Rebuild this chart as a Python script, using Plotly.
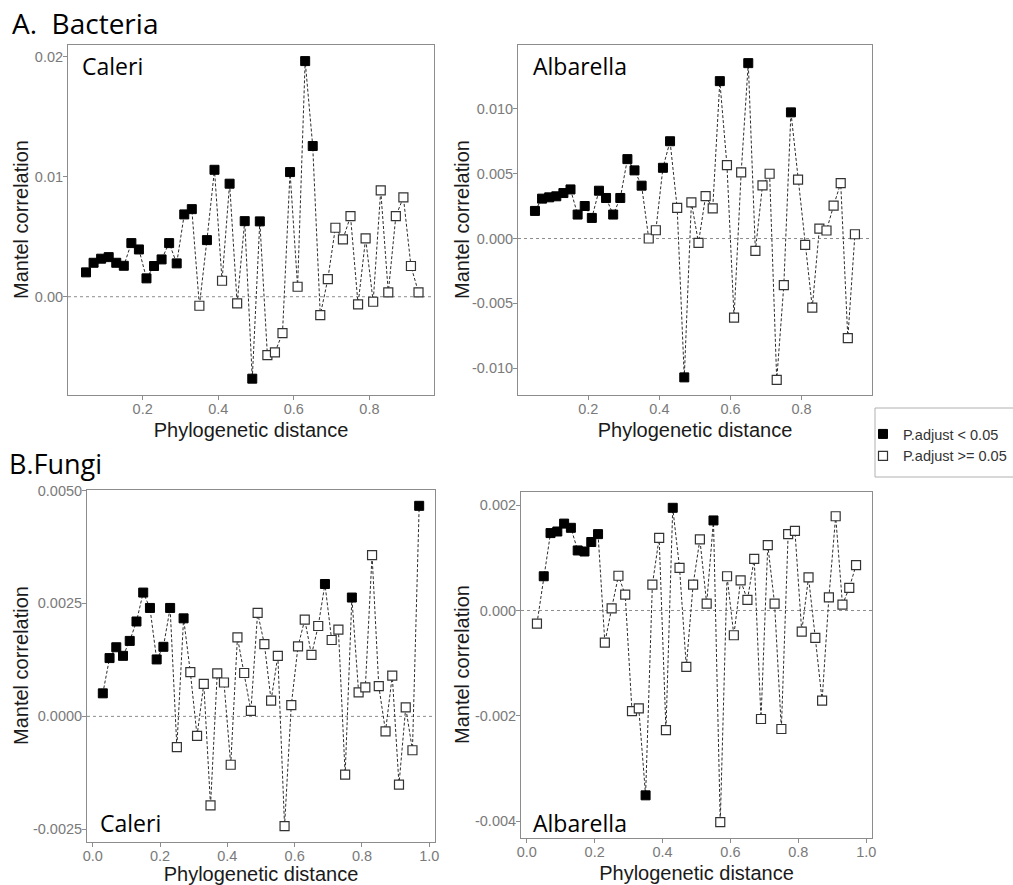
import plotly.graph_objects as go

W, H = 1013, 885

# ---------------- data ----------------
bac_caleri_x = [0.05, 0.07, 0.09, 0.11, 0.13, 0.15, 0.17, 0.19, 0.21, 0.23, 0.25, 0.27, 0.29, 0.31, 0.33,
                0.35, 0.37, 0.39, 0.41, 0.43, 0.45, 0.47, 0.49, 0.51, 0.53, 0.55, 0.57, 0.59, 0.61, 0.63,
                0.65, 0.67, 0.69, 0.71, 0.73, 0.75, 0.77, 0.79, 0.81, 0.83, 0.85, 0.87, 0.89, 0.91, 0.93]
bac_caleri_y = [0.00203, 0.00283, 0.00317, 0.0033, 0.00283, 0.00258, 0.00447, 0.00394, 0.00153, 0.00256,
                0.00311, 0.00447, 0.00278, 0.00686, 0.0073, -0.00075, 0.00472, 0.01058, 0.00133, 0.00942,
                -0.00056, 0.0063, -0.00683, 0.00628, -0.00486, -0.00464, -0.00303, 0.01039, 0.00083, 0.01964,
                0.01256, -0.00153, 0.00147, 0.00575, 0.00478, 0.00672, -0.00064, 0.00486, -0.00042, 0.00886,
                0.00036, 0.00672, 0.00828, 0.00256, 0.00036]
bac_caleri_sig = [1, 1, 1, 1, 1, 1, 1, 1, 1, 1, 1, 1, 1, 1, 1,
                  0, 1, 1, 0, 1, 0, 1, 1, 1, 0, 0, 0, 1, 0, 1,
                  1, 0, 0, 0, 0, 0, 0, 0, 0, 0, 0, 0, 0, 0, 0]

bac_alb_x = [0.05, 0.07, 0.09, 0.11, 0.13, 0.15, 0.17, 0.19, 0.21, 0.23, 0.25, 0.27, 0.29, 0.31, 0.33,
             0.35, 0.37, 0.39, 0.41, 0.43, 0.45, 0.47, 0.49, 0.51, 0.53, 0.55, 0.57, 0.59, 0.61, 0.63,
             0.65, 0.67, 0.69, 0.71, 0.73, 0.75, 0.77, 0.79, 0.81, 0.83, 0.85, 0.87, 0.89, 0.91, 0.93, 0.95]
bac_alb_y = [0.00213, 0.00308, 0.00318, 0.00326, 0.00351, 0.00379, 0.00185, 0.00251, 0.00159, 0.00369,
             0.00313, 0.00185, 0.00313, 0.00613, 0.00526, 0.00408, 0.0, 0.00064, 0.00546, 0.00751,
             0.00236, -0.01072, 0.00279, -0.00033, 0.00328, 0.00233, 0.01215, 0.00567, -0.0061, 0.0051,
             0.01354, -0.00095, 0.0041, 0.005, -0.01092, -0.00359, 0.00974, 0.00454, -0.00049, -0.00533,
             0.00077, 0.00062, 0.00254, 0.00428, -0.00769, 0.00033]
bac_alb_sig = [1, 1, 1, 1, 1, 1, 1, 1, 1, 1, 1, 1, 1, 1, 1, 1,
               0, 0, 1, 1, 0, 1, 0, 0, 0, 0, 1, 0, 0, 0, 1,
               0, 0, 0, 0, 0, 1, 0, 0, 0, 0, 0, 0, 0, 0, 0]

fun_caleri_x = [0.03, 0.05, 0.07, 0.09, 0.11, 0.13, 0.15, 0.17, 0.19, 0.21, 0.23, 0.25, 0.27, 0.29, 0.31,
                0.33, 0.35, 0.37, 0.39, 0.41, 0.43, 0.45, 0.47, 0.49, 0.51, 0.53, 0.55, 0.57, 0.59, 0.61,
                0.63, 0.65, 0.67, 0.69, 0.71, 0.73, 0.75, 0.77, 0.79, 0.81, 0.83, 0.85, 0.87, 0.89, 0.91,
                0.93, 0.95, 0.97]
fun_caleri_y = [0.00051, 0.00129, 0.00153, 0.00134, 0.00167, 0.0021, 0.00274, 0.0024, 0.00126, 0.00154,
                0.0024, -0.00068, 0.00217, 0.00098, -0.00043, 0.00072, -0.00197, 0.00095, 0.00075, -0.00107,
                0.00175, 0.00096, 0.00012, 0.00229, 0.0016, 0.00035, 0.00134, -0.00243, 0.00025, 0.00155,
                0.00214, 0.00136, 0.002, 0.00293, 0.00169, 0.00192, -0.00129, 0.00263, 0.00053, 0.00064,
                0.00357, 0.00067, -0.00033, 0.0009, -0.00151, 0.0002, -0.00075, 0.00466]
fun_caleri_sig = [1, 1, 1, 1, 1, 1, 1, 1, 1, 1, 1, 0, 1, 0, 0,
                  0, 0, 0, 0, 0, 0, 0, 0, 0, 0, 0, 0, 0, 0, 0,
                  0, 0, 0, 1, 0, 0, 0, 1, 0, 0, 0, 0, 0, 0, 0,
                  0, 0, 1]

fun_alb_x = [0.03, 0.05, 0.07, 0.09, 0.11, 0.13, 0.15, 0.17, 0.19, 0.21, 0.23, 0.25, 0.27, 0.29, 0.31,
             0.33, 0.35, 0.37, 0.39, 0.41, 0.43, 0.45, 0.47, 0.49, 0.51, 0.53, 0.55, 0.57, 0.59, 0.61,
             0.63, 0.65, 0.67, 0.69, 0.71, 0.73, 0.75, 0.77, 0.79, 0.81, 0.83, 0.85, 0.87, 0.89, 0.91,
             0.93, 0.95, 0.97]
fun_alb_y = [-0.00025, 0.00065, 0.00147, 0.0015, 0.00165, 0.00157, 0.00114, 0.00112, 0.0013, 0.00145,
             -0.00061, 0.00004, 0.00066, 0.0003, -0.00191, -0.00186, -0.00351, 0.00049, 0.00138, -0.00227,
             0.00195, 0.00081, -0.00107, 0.00049, 0.00135, 0.00013, 0.00171, -0.00402, 0.00065, -0.00047,
             0.00057, 0.0002, 0.00098, -0.00206, 0.00124, 0.00013, -0.00225, 0.00145, 0.00151, -0.0004,
             0.00063, -0.00052, -0.00171, 0.00025, 0.00179, 0.00011, 0.00043, 0.00086]
fun_alb_sig = [0, 1, 1, 1, 1, 1, 1, 1, 1, 1, 0, 0, 0, 0, 0,
               0, 1, 0, 0, 0, 1, 0, 0, 0, 0, 0, 1, 0, 0, 0,
               0, 0, 0, 0, 0, 0, 0, 0, 0, 0, 0, 0, 0, 0, 0,
               0, 0, 0]

legend_labels = ["P.adjust < 0.05", "P.adjust >= 0.05"]
section_titles = ["A.\u00a0 Bacteria", "B.Fungi"]
site_labels = ["Caleri", "Albarella"]
x_axis_title = "Phylogenetic distance"
y_axis_title = "Mantel correlation"

a_x_ticks = [0.2, 0.4, 0.6, 0.8]
a_x_text = ["0.2", "0.4", "0.6", "0.8"]
b_x_ticks = [0.0, 0.2, 0.4, 0.6, 0.8, 1.0]
b_x_text = ["0.0", "0.2", "0.4", "0.6", "0.8", "1.0"]
ac_y_ticks = [0.0, 0.01, 0.02]
ac_y_text = ["0.00", "0.01", "0.02"]
aa_y_ticks = [-0.010, -0.005, 0.0, 0.005, 0.010]
aa_y_text = ["-0.010", "-0.005", "0.000", "0.005", "0.010"]
bc_y_ticks = [-0.0025, 0.0, 0.0025, 0.0050]
bc_y_text = ["-0.0025", "0.0000", "0.0025", "0.0050"]
ba_y_ticks = [-0.004, -0.002, 0.0, 0.002]
ba_y_text = ["-0.004", "-0.002", "0.000", "0.002"]

# ---------------- figure ----------------
fig = go.Figure()

panels = [
    (bac_caleri_x, bac_caleri_y, bac_caleri_sig, "x", "y"),
    (bac_alb_x, bac_alb_y, bac_alb_sig, "x2", "y2"),
    (fun_caleri_x, fun_caleri_y, fun_caleri_sig, "x3", "y3"),
    (fun_alb_x, fun_alb_y, fun_alb_sig, "x4", "y4"),
]

for i, (xs, ys, sig, xa, ya) in enumerate(panels):
    fig.add_trace(go.Scatter(x=xs, y=ys, mode="lines", xaxis=xa, yaxis=ya,
                             line=dict(color="#2b2b2b", width=1, dash="3px,2px"),
                             showlegend=False, hoverinfo="skip"))
    xs_s = [x for x, s in zip(xs, sig) if s == 1]
    ys_s = [y for y, s in zip(ys, sig) if s == 1]
    xs_n = [x for x, s in zip(xs, sig) if s == 0]
    ys_n = [y for y, s in zip(ys, sig) if s == 0]
    fig.add_trace(go.Scatter(x=xs_s, y=ys_s, mode="markers", xaxis=xa, yaxis=ya,
                             name=legend_labels[0], legendgroup="sig", showlegend=(i == 0),
                             marker=dict(symbol="square", size=9, color="black",
                                         line=dict(color="black", width=1))))
    fig.add_trace(go.Scatter(x=xs_n, y=ys_n, mode="markers", xaxis=xa, yaxis=ya,
                             name=legend_labels[1], legendgroup="ns", showlegend=(i == 0),
                             marker=dict(symbol="square", size=9, color="white",
                                         line=dict(color="#333333", width=1.2))))


def dx(a, b):
    return [a / W, b / W]


def dy(top, bottom):
    return [1 - bottom / H, 1 - top / H]


tick_font = dict(family="Liberation Sans, Arial, sans-serif", size=14.5, color="#7a7a7a")
title_font = dict(family="Liberation Sans, Arial, sans-serif", size=20, color="#1a1a1a")

common_axis = dict(showline=True, mirror=True, linecolor="#8c8c8c", linewidth=1,
                   showgrid=False, zeroline=False, ticks="outside", ticklen=4,
                   tickcolor="#8c8c8c", tickwidth=1, tickfont=tick_font, automargin=False)
xcommon = dict(common_axis, ticklabelstandoff=-3)
ycommon = dict(common_axis, ticklabelstandoff=-3)

x_title = dict(text=x_axis_title, font=title_font, standoff=6)

fig.update_layout(
    width=W, height=H,
    paper_bgcolor="white", plot_bgcolor="white",
    margin=dict(l=0, r=0, t=0, b=0, autoexpand=False),
    xaxis=dict(xcommon, domain=dx(68, 434), range=[0.0023, 0.971],
               tickvals=a_x_ticks, ticktext=a_x_text, title=x_title, anchor="y"),
    yaxis=dict(ycommon, domain=dy(45, 395), range=[-0.00819, 0.02098],
               tickvals=ac_y_ticks, ticktext=ac_y_text, anchor="x"),
    xaxis2=dict(xcommon, domain=dx(518, 872), range=[0.0023, 0.998],
                tickvals=a_x_ticks, ticktext=a_x_text, title=x_title, anchor="y2"),
    yaxis2=dict(ycommon, domain=dy(45, 395), range=[-0.01208, 0.01494],
                tickvals=aa_y_ticks, ticktext=aa_y_text, anchor="x2"),
    xaxis3=dict(xcommon, domain=dx(87, 435), range=[-0.017, 1.017],
                tickvals=b_x_ticks, ticktext=b_x_text, title=x_title, anchor="y3"),
    yaxis3=dict(ycommon, domain=dy(490, 842), range=[-0.00278, 0.00501],
                tickvals=bc_y_ticks, ticktext=bc_y_text, anchor="x3"),
    xaxis4=dict(xcommon, domain=dx(521, 872), range=[-0.017, 1.017],
                tickvals=b_x_ticks, ticktext=b_x_text, title=x_title, anchor="y4"),
    yaxis4=dict(ycommon, domain=dy(492, 838), range=[-0.00432, 0.00225],
                tickvals=ba_y_ticks, ticktext=ba_y_text, anchor="x4"),
    legend=dict(x=863 / W, y=1 - 418 / H, xanchor="left", yanchor="top",
                font=dict(family="Liberation Sans, Arial, sans-serif", size=14.5, color="#333333"),
                bgcolor="rgba(0,0,0,0)", borderwidth=0, tracegroupgap=0),
)

# zero reference lines
for xa, ya in [("x", "y"), ("x2", "y2"), ("x3", "y3"), ("x4", "y4")]:
    fig.add_shape(type="line", xref=xa + " domain", yref=ya, x0=0, x1=1, y0=0, y1=0,
                  line=dict(color="#8c8c8c", width=1, dash="dot"), layer="below")

# legend frame
fig.add_shape(type="rect", xref="paper", yref="paper", x0=875 / W, x1=1.02,
              y0=1 - 477 / H, y1=1 - 408 / H, line=dict(color="#b0b0b0", width=1))

# y-axis titles (rotated)
for xp, yp in [(21, 220), (462, 220), (21, 666), (462, 665)]:
    fig.add_annotation(text=y_axis_title, xref="paper", yref="paper", x=xp / W, y=1 - yp / H,
                       xanchor="center", yanchor="middle", textangle=-90, showarrow=False,
                       font=title_font)

label_font = dict(family="Open Sans, sans-serif", size=23, color="black")
head_font = dict(family="Open Sans, sans-serif", size=28, color="black")
head_font_b = dict(family="Open Sans, sans-serif", size=27, color="black")

fig.add_annotation(text=section_titles[0], xref="paper", yref="paper", x=10 / W, y=1 - 23 / H,
                   xanchor="left", yanchor="middle", showarrow=False, font=head_font)
fig.add_annotation(text=section_titles[1], xref="paper", yref="paper", x=7 / W, y=1 - 463 / H,
                   xanchor="left", yanchor="middle", showarrow=False, font=head_font_b)

for txt, xp, yp in [(site_labels[0], 80, 66), (site_labels[1], 531, 66),
                    (site_labels[0], 98, 823), (site_labels[1], 531, 823)]:
    fig.add_annotation(text=txt, xref="paper", yref="paper", x=xp / W, y=1 - yp / H,
                       xanchor="left", yanchor="middle", showarrow=False, font=label_font)

fig.write_html("out.html", config={"displayModeBar": False},
               post_script="document.body.style.margin='0';")
